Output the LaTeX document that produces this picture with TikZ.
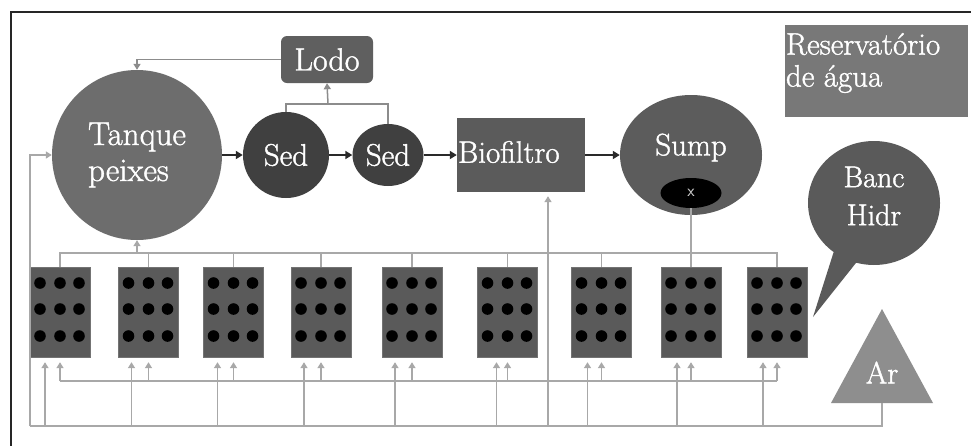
\documentclass[tikz,border=0pt]{standalone}
\usepackage{fontspec}
\newfontfamily\lblfont{Latin Modern Roman}[FakeBold=1.3]
\usetikzlibrary{arrows.meta,shapes.geometric,shapes.callouts}
\definecolor{tanqc}{HTML}{6D6D6D}
\definecolor{sedc}{HTML}{404040}
\definecolor{lodoc}{HTML}{5F5F5F}
\definecolor{bioc}{HTML}{5B5B5B}
\definecolor{sumpc}{HTML}{5C5C5C}
\definecolor{resc}{HTML}{787878}
\definecolor{bancc}{HTML}{5A5A5A}
\definecolor{tankc}{HTML}{5A5A5A}
\definecolor{arc}{HTML}{8E8E8E}
\definecolor{pipec}{HTML}{A8A8A8}
\definecolor{pipedk}{HTML}{8C8C8C}
\definecolor{flowc}{HTML}{2A2A2A}
\begin{document}
\begin{tikzpicture}[x=1pt,y=-1pt,
 lbl/.style={text=white,font=\lblfont\fontsize{31}{34}\selectfont},
 pipe/.style={draw=pipec,line width=1.5pt},
 pipetip/.style={pipe,-{Triangle[width=7pt,length=6pt]}},
 topline/.style={draw=pipedk,line width=1.5pt},
 toptip/.style={topline,-{Triangle[width=7pt,length=6pt]}},
 flow/.style={draw=flowc,line width=2pt,-{Triangle[width=8pt,length=7pt]}},
 tankbox/.style={rectangle,fill=tankc,draw=tankc!85!white,minimum width=60pt,minimum height=90pt,inner sep=0pt},
]
\useasboundingbox (0,0) rectangle (971,445);
\fill[white] (0,0) rectangle (971,445);
\draw[line width=2.6pt,black!85] (11,450) -- (11,12) -- (975,12);

% main nodes
\node[circle,fill=tanqc,minimum size=170pt,inner sep=0pt,lbl,font=\lblfont\fontsize{33}{36}\selectfont,align=left] (tanque) at (137,155) {Tanque\\peixes};
\node[rectangle,rounded corners=6pt,fill=lodoc,minimum width=92pt,minimum height=47pt,inner sep=0pt,lbl,font=\lblfont\fontsize{32}{34}\selectfont] (lodo) at (327,59.5) {Lodo};
\node[circle,fill=sedc,minimum size=86pt,inner sep=0pt,lbl] (sed1) at (286,155) {Sed};
\node[ellipse,fill=sedc,minimum width=71pt,minimum height=62pt,inner sep=0pt,lbl] (sed2) at (388,155) {Sed};
\node[rectangle,fill=bioc,minimum width=128pt,minimum height=74pt,inner sep=0pt,
  label={[lbl,anchor=west,inner sep=0pt,xshift=1pt,yshift=3pt]west:Biofiltro}] (bio) at (521,155) {};
\node[ellipse,fill=sumpc,minimum width=142pt,minimum height=120pt,inner sep=0pt,
  label={[lbl,yshift=7.5pt]center:Sump}] (sump) at (691,155) {};
\node[ellipse,fill=black,minimum width=61pt,minimum height=30pt,inner sep=0pt,text=white!80!black,font=\sffamily\fontsize{17}{17}\selectfont] (xv) at (691,193) {x};
\node[rectangle,fill=resc,minimum width=183pt,minimum height=92pt,inner sep=0pt,
  label={[lbl,align=left,anchor=north west,inner sep=0pt,font=\lblfont\fontsize{31}{32}\selectfont,yshift=-8pt,xshift=1pt]north west:Reservatório\\de água}] (res) at (876.5,71) {};
\node[ellipse callout,fill=bancc,minimum width=132pt,minimum height=124pt,inner sep=0pt,
  callout absolute pointer={(813,317)},callout pointer arc=22,
  label={[lbl,align=center,font=\lblfont\fontsize{30}{38}\selectfont,yshift=7pt]center:Banc\\Hidr}] (banc) at (874,203) {};
\fill[arc] (882,309) -- (933,403) -- (831,403) -- cycle;
\node[lbl] (ar) at (882,372.5) {Ar};
\coordinate (arb) at (882,403);

% tanks
\foreach \i/\x in {1/60,2/148.5,3/233.5,4/321,5/412,6/507.5,7/601.5,8/691,9/777}{
  \node[tankbox] (t\i) at (\x,312) {};
  \foreach \dx in {-20,0,19}{
    \foreach \dy in {-29,-3,24}{
      \fill[black] (\x+\dx,312+\dy) circle (5.8);
    }
  }
}

% main flow
\draw[flow] (tanque.east) -- (sed1.west);
\draw[flow] (sed1.east) -- (sed2.west);
\draw[flow] (sed2.east) -- (bio.west);
\draw[flow] (bio.east) -- (sump.west);

% sludge
\draw[toptip] (lodo.west) -| (tanque.north);
\coordinate (sj) at (328,104);
\draw[topline] (sed1.north) |- (sj) -| (sed2.north);
\draw[toptip] (sj) -- (lodo.south);

% top manifold
\coordinate (mL) at (60,253);
\coordinate (mR) at (777,253);
\draw[pipe] (t1.north) |- (mR) -- (t9.north);
\foreach \i in {2,3,4,5,6,7}{\draw[pipe] (t\i.north) -- (t\i.north |- mL);}
\draw[pipe] (xv.south) -- (t8.north);
\draw[pipetip] (tanque.south |- mL) -- (tanque.south);

% bottom lines
\coordinate (bL) at (30,426);
\draw[pipetip] (bL) |- (tanque.west);
\draw[pipe] (bL) -| (arb);
\coordinate (bv) at (548,426);
\draw[pipetip,shorten >=4pt] (bv) -- (bv |- bio.south);
\draw[pipe] ([yshift=-24pt]t1.south) -- ([yshift=-24pt]t9.south);
\foreach \i/\o in {1/-15,2/-17,3/-16,4/-17,5/-17,6/-11,7/-14,8/-14,9/-14}{
  \draw[pipetip] ([xshift=\o pt,yshift=-69pt]t\i.south) -- ([xshift=\o pt,yshift=-5pt]t\i.south);
  \draw[pipetip] ([yshift=-24pt]t\i.south) -- ([yshift=-5pt]t\i.south);
}
\end{tikzpicture}
\end{document}
